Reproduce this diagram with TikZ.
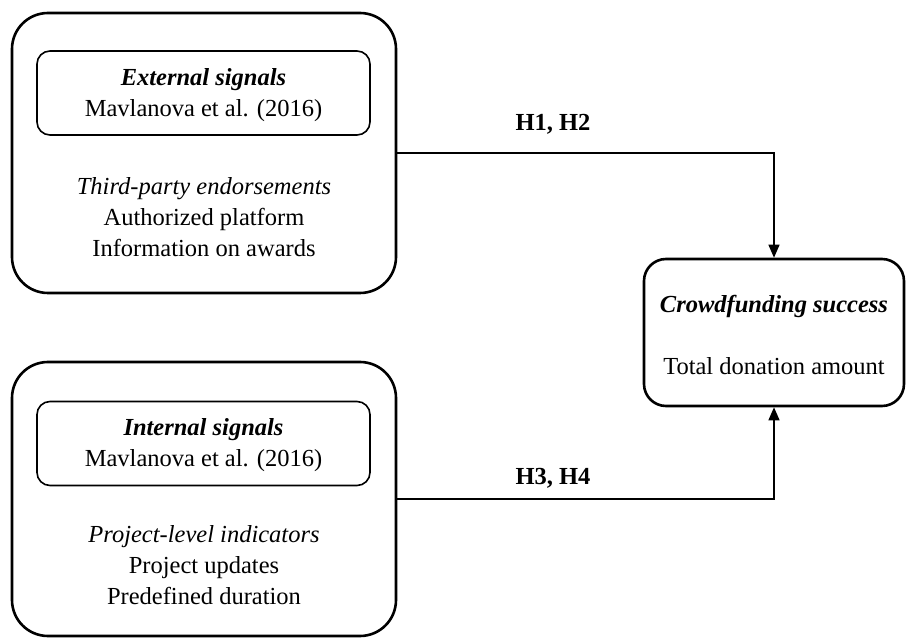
\documentclass[tikz,border=0pt]{standalone}
\usepackage{fontspec}
\setmainfont{Liberation Serif}
\usetikzlibrary{arrows.meta}
\begin{document}
\begin{tikzpicture}[x=1pt,y=1pt,
  outerbox/.style={draw, line width=2.6pt, rounded corners=36pt, minimum width=384pt, inner sep=0pt},
  innerbox/.style={draw, line width=1.6pt, rounded corners=13pt, minimum width=333pt, minimum height=84pt, inner sep=0pt},
  resultbox/.style={draw, line width=2.6pt, rounded corners=22pt, minimum width=260pt, minimum height=147pt, inner sep=0pt},
  txt/.style={align=center, font=\fontsize{24.5}{31}\selectfont, inner sep=0pt},
  hlabel/.style={font=\fontsize{24.5}{31}\selectfont\bfseries, inner sep=0pt},
  conn/.style={line width=1.3pt, -{Triangle[length=13pt,width=11pt]}}]
\useasboundingbox (0,0) rectangle (906,638);
% top group
\node[outerbox, minimum height=280pt] (extouter) at (204,485) {};
\node[innerbox] (extinner) at (203.5,545) {};
\node[txt] (exttitle) at (203.5,543) {\textbf{\textit{External signals}}\\Mavlanova et al. (2016)};
\node[txt] (extitems) at (204,421) {\textit{Third-party endorsements}\\Authorized platform\\Information on awards};
% bottom group
\node[outerbox, minimum height=274pt] (intouter) at (204,139) {};
\node[innerbox] (intinner) at (203.5,194.5) {};
\node[txt] (inttitle) at (203.5,192.5) {\textbf{\textit{Internal signals}}\\Mavlanova et al. (2016)};
\node[txt] (intitems) at (204,73) {\textit{Project-level indicators}\\Project updates\\Predefined duration};
% result
\node[resultbox] (cfs) at (774,305.5) {};
\node[txt] (cfstext) at (774,303) {\textbf{\textit{Crowdfunding success}}\\[31pt]Total donation amount};
% connectors
\draw[conn] (extouter.east) -| (cfs.north);
\draw[conn] (intouter.east) -| (cfs.south);
\node[hlabel] (h12) at (553,514) {H1, H2};
\node[hlabel] (h34) at (553,160) {H3, H4};
\end{tikzpicture}
\end{document}
